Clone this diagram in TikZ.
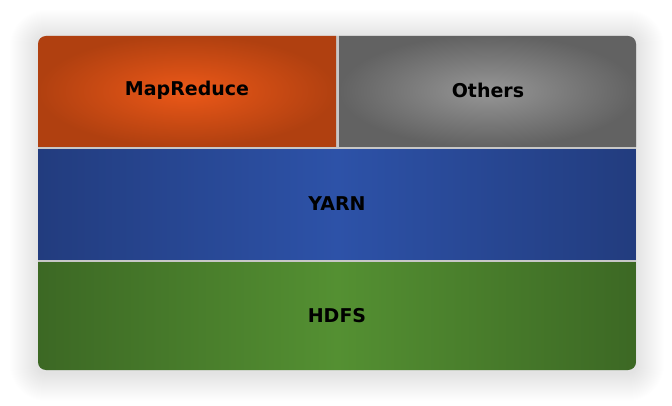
\documentclass[tikz,border=0pt]{standalone}
\usepackage{fontspec}
\setmainfont{DejaVu Sans}
\begin{document}
\begin{tikzpicture}[x=1pt,y=-1pt,
  lbl/.style={font=\bfseries\fontsize{19}{22}\selectfont, text=black}]
\useasboundingbox (0,0) rectangle (672,406);
\fill[white] (0,0) rectangle (672,406);
% shadow
\foreach \i in {1,...,28}{
  \fill[black, opacity=0.0048, rounded corners={8+\i}] (38-\i,36-\i+2) rectangle (636+\i,370+\i+3);
}
\fill[white!78!black, rounded corners=8] (38,36) rectangle (636,370);
\begin{scope}
  \clip[rounded corners=8] (38,36) rectangle (636,370);
  \shade[inner color={rgb,255:red,236;green,88;blue,24}, outer color={rgb,255:red,176;green,64;blue,16}] (37,35) rectangle (336,147);
  \shade[inner color={rgb,255:red,150;green,150;blue,150}, outer color={rgb,255:red,98;green,98;blue,98}] (339,35) rectangle (637,147);
  \shade[left color={rgb,255:red,34;green,60;blue,126}, right color={rgb,255:red,34;green,60;blue,126}, middle color={rgb,255:red,45;green,82;blue,168}] (37,150) rectangle (637,259);
  \shade[left color={rgb,255:red,60;green,104;blue,36}, right color={rgb,255:red,60;green,104;blue,36}, middle color={rgb,255:red,84;green,144;blue,50}] (37,262) rectangle (637,371);
\end{scope}
\node[lbl] (mr) at (187,90) {MapReduce};
\node[lbl] (ot) at (488,90) {Others};
\node[lbl] (ya) at (337,204) {YARN};
\node[lbl] (hd) at (337,316) {HDFS};
\end{tikzpicture}
\end{document}
